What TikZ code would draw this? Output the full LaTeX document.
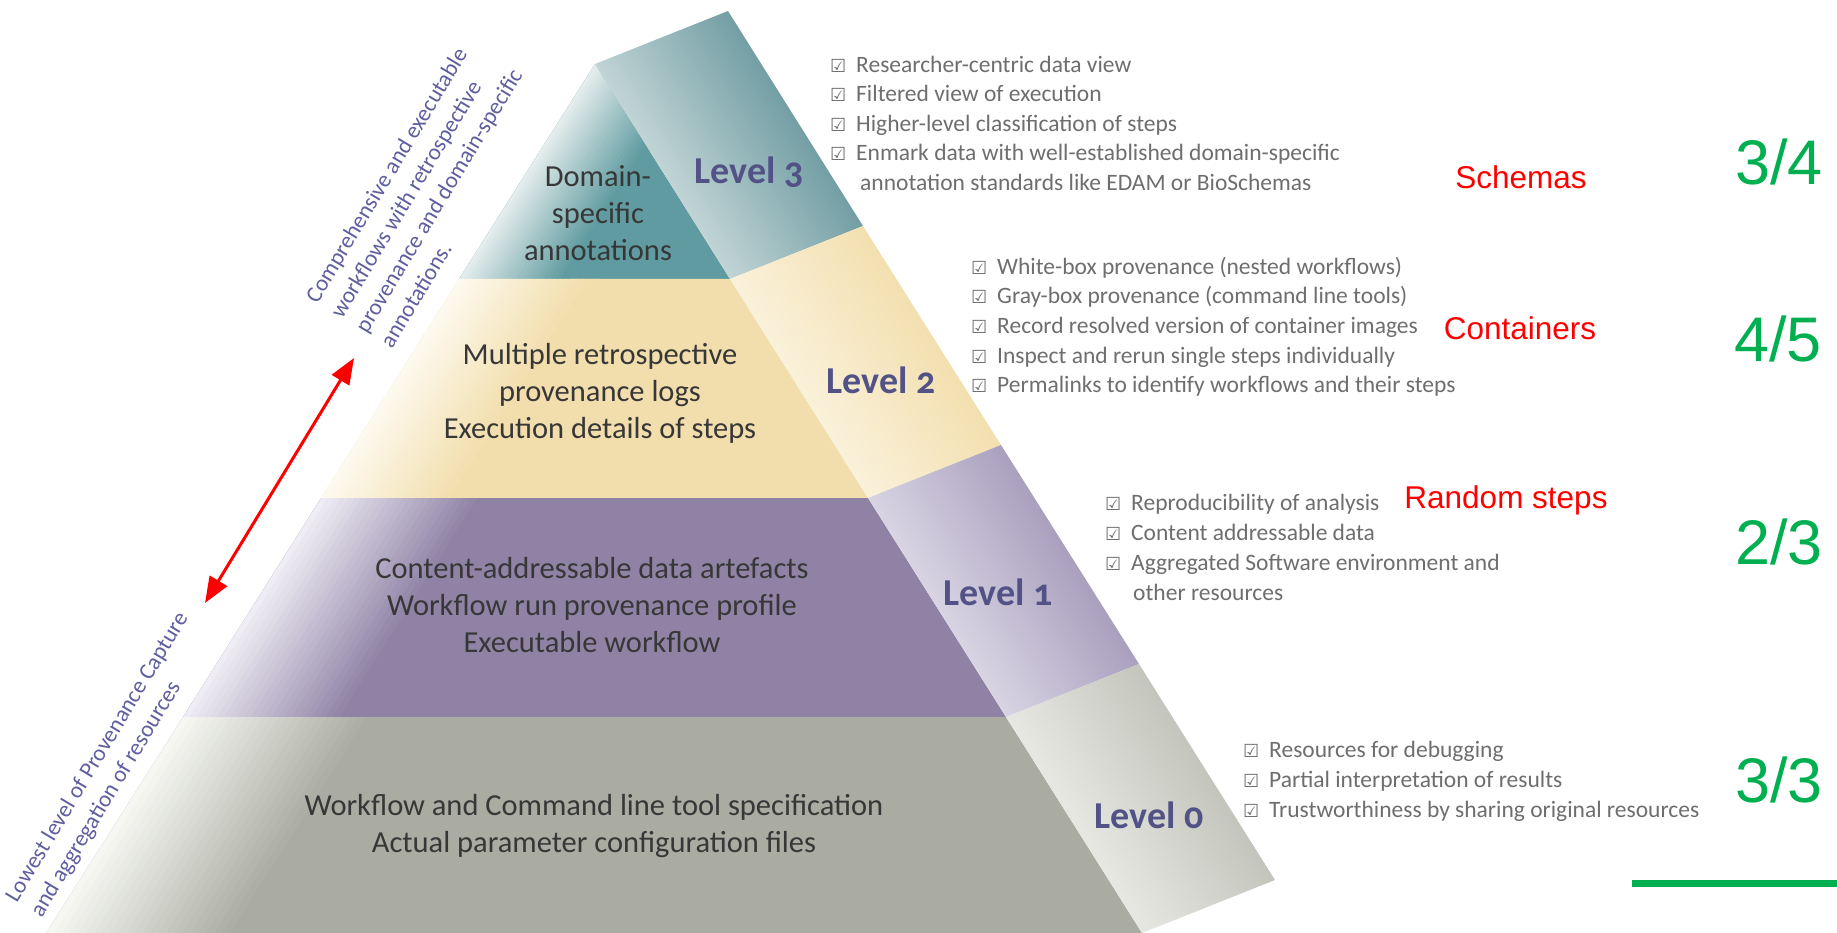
\documentclass[tikz,border=0pt]{standalone}
\usepackage{fontspec}
\setmainfont{Carlito}
\newfontfamily\lvlfont[Numbers=OldStyle]{Carlito}
\newfontfamily\symf{DejaVu Sans}
\newfontfamily\arialf{Liberation Sans}
\usetikzlibrary{arrows.meta}

\definecolor{tealF}{RGB}{95,155,160}
\definecolor{tealD}{RGB}{80,135,142}
\definecolor{tealL}{RGB}{228,236,236}
\definecolor{yelF}{RGB}{242,222,172}
\definecolor{yelD}{RGB}{240,216,156}
\definecolor{yelL}{RGB}{253,249,238}
\definecolor{purF}{RGB}{143,130,165}
\definecolor{purD}{RGB}{148,136,173}
\definecolor{purL}{RGB}{238,236,244}
\definecolor{greF}{RGB}{170,172,162}
\definecolor{greD}{RGB}{180,182,172}
\definecolor{greL}{RGB}{246,247,242}
\definecolor{txt}{RGB}{55,55,55}
\definecolor{lvl}{RGB}{82,82,135}
\definecolor{lst}{RGB}{110,110,110}
\definecolor{rotc}{RGB}{95,95,160}
\definecolor{grn}{RGB}{0,176,80}

\newcommand{\chk}{\makebox[26pt][l]{\symf\fontsize{18}{18}\selectfont ☑}}
% gradient made of thin slices parallel to the left edge (#1 top, #2 bottom)
\newcommand{\fadeband}[5]{%
  \foreach \k in {0,...,24}{%
    \pgfmathsetmacro\fpct{min(100,4.35*\k)}%
    \fill[#4!\fpct!#5] ([xshift={\k*#3/25}]#1) -- ([xshift={(\k+1)*#3/25+1.5}]#1)
      -- ([xshift={(\k+1)*#3/25+1.5}]#2) -- ([xshift={\k*#3/25}]#2) -- cycle;}}

\tikzset{
  front/.style={align=center, text=txt, inner sep=0pt, font=\fontsize{30.5}{37}\selectfont},
  lvlstyle/.style={text=lvl, inner sep=0pt, font=\lvlfont\bfseries\fontsize{38}{38}\selectfont},
  li/.style={anchor=base west, inner sep=0pt, text=lst, font=\fontsize{23.5}{29.5}\selectfont},
  rotlab/.style={rotate=59, align=left, text=rotc, inner sep=0pt, font=\fontsize{23}{29}\selectfont},
  redlab/.style={text=red, inner sep=0pt, font=\arialf\fontsize{31.5}{31.5}\selectfont},
  grnlab/.style={text=grn, inner sep=0pt, font=\arialf\fontsize{63}{63}\selectfont},
  redarrow/.style={draw=red, line width=3pt, {Triangle[length=26pt,width=20pt]}-{Triangle[length=26pt,width=20pt]}},
  sidefade/.style={shading angle=-58}
}

\begin{document}
\begin{tikzpicture}[x=1pt,y=1pt]
\useasboundingbox (0,0) rectangle (1837,-933);
\fill[white] (0,0) rectangle (1837,-933);

% front corners
\coordinate (A) at (595,-64);
\coordinate (B) at (728,-11);
\coordinate (L3l) at (459,-279);
\coordinate (L3r) at (730,-279);
\coordinate (L2l) at (321,-498);
\coordinate (L2r) at (868,-498);
\coordinate (L1l) at (183,-717);
\coordinate (L1r) at (1006,-717);
\coordinate (L0l) at (46,-933);
\coordinate (L0r) at (1142,-933);
% back corners
\coordinate (B3) at (863,-226);
\coordinate (B2) at (1001,-445);
\coordinate (B1) at (1139,-664);
\coordinate (B0) at (1275,-880);

% front faces
\fill[tealF] (A) -- (L3r) -- (L3l) -- cycle;
\fill[yelF] (L3l) -- (L3r) -- (L2r) -- (L2l) -- cycle;
\fill[purF] (L2l) -- (L2r) -- (L1r) -- (L1l) -- cycle;
\fill[greF] (L1l) -- (L1r) -- (L0r) -- (L0l) -- cycle;

% light fades along the left edge of the front faces
\begin{scope}
\clip (A) -- (L3r) -- (L3l) -- cycle;
\fadeband{A}{L3l}{110}{tealF}{tealL}
\end{scope}
\begin{scope}
\clip (L3l) -- (L3r) -- (L2r) -- (L2l) -- cycle;
\fadeband{L3l}{L2l}{140}{yelF}{yelL}
\end{scope}
\begin{scope}
\clip (L2l) -- (L2r) -- (L1r) -- (L1l) -- cycle;
\fadeband{L2l}{L1l}{170}{purF}{purL}
\end{scope}
\begin{scope}
\clip (L1l) -- (L1r) -- (L0r) -- (L0l) -- cycle;
\fadeband{L1l}{L0l}{200}{greF}{greL}
\end{scope}

% side faces
\shade[bottom color=tealL, top color=tealD, sidefade] (A) -- (B) -- (B3) -- (L3r) -- cycle;
\shade[bottom color=yelL, top color=yelD, sidefade] (L3r) -- (B3) -- (B2) -- (L2r) -- cycle;
\shade[bottom color=purL, top color=purD, sidefade] (L2r) -- (B2) -- (B1) -- (L1r) -- cycle;
\shade[bottom color=greL, top color=greD, sidefade] (L1r) -- (B1) -- (B0) -- (L0r) -- cycle;

% front texts
\node[front] (t3) at (598,-213) {Domain-\\specific\\annotations};
\node[front] (t2) at (600,-393) {Multiple retrospective\\provenance logs\\Execution details of steps};
\node[front] (t1) at (592,-605) {Content-addressable data artefacts\\Workflow run provenance profile\\Executable workflow};
\node[front] (t0) at (594,-826) {Workflow and Command line tool specification\\Actual parameter configuration files};

% level labels
\node[lvlstyle] (lv3) at (749,-172) {Level 3};
\node[lvlstyle] (lv2) at (881,-380) {Level 2};
\node[lvlstyle] (lv1) at (998,-592) {Level 1};
\node[lvlstyle] (lv0) at (1149,-815) {Level 0};

% lists
\node[li] (r3a) at (830,-72.5) {\chk Researcher-centric data view};
\node[li] (r3b) at (830,-102) {\chk Filtered view of execution};
\node[li] (r3c) at (830,-131.5) {\chk Higher-level classification of steps};
\node[li] (r3d) at (830,-161) {\chk Enmark data with well-established domain-specific};
\node[li] (r3e) at (860,-190.5) {annotation standards like EDAM or BioSchemas};

\node[li] (r2a) at (971,-274.5) {\chk White-box provenance (nested workflows)};
\node[li] (r2b) at (971,-304) {\chk Gray-box provenance (command line tools)};
\node[li] (r2c) at (971,-333.5) {\chk Record resolved version of container images};
\node[li] (r2d) at (971,-363) {\chk Inspect and rerun single steps individually};
\node[li] (r2e) at (971,-392.5) {\chk Permalinks to identify workflows and their steps};

\node[li] (r1a) at (1105,-510.5) {\chk Reproducibility of analysis};
\node[li] (r1b) at (1105,-540.5) {\chk Content addressable data};
\node[li] (r1c) at (1105,-570.5) {\chk Aggregated Software environment and};
\node[li] (r1d) at (1133,-600.5) {other resources};

\node[li] (r0a) at (1243,-757.5) {\chk Resources for debugging};
\node[li] (r0b) at (1243,-787.5) {\chk Partial interpretation of results};
\node[li] (r0c) at (1243,-817.5) {\chk Trustworthiness by sharing original resources};

% rotated side labels
\node[rotlab] (lab1) at (426,-193) {Comprehensive and executable\\workflows with retrospective\\provenance and domain-specific\\annotations.};
\node[rotlab] (lab2) at (110,-765) {Lowest level of Provenance Capture\\and aggregation of resources};

% red double arrow
\coordinate (arrLo) at (205,-603);
\coordinate (arrHi) at (354,-358);
\draw[redarrow] (arrLo) -- (arrHi);

% red labels
\node[redlab] (sch) at (1521,-177) {Schemas};
\node[redlab] (cont) at (1520,-328) {Containers};
\node[redlab] (rnd) at (1506,-500) {Random steps};

% green fractions
\node[grnlab] (f3) at (1779,-162) {3/4};
\node[grnlab] (f2) at (1778,-339) {4/5};
\node[grnlab] (f1) at (1779,-542) {2/3};
\node[grnlab] (f0) at (1779,-780) {3/3};

\coordinate (gl1) at (1632,-883);
\coordinate (gl2) at (1837,-883);
\draw[grn, line width=7pt] (gl1) -- (gl2);
\end{tikzpicture}
\end{document}
